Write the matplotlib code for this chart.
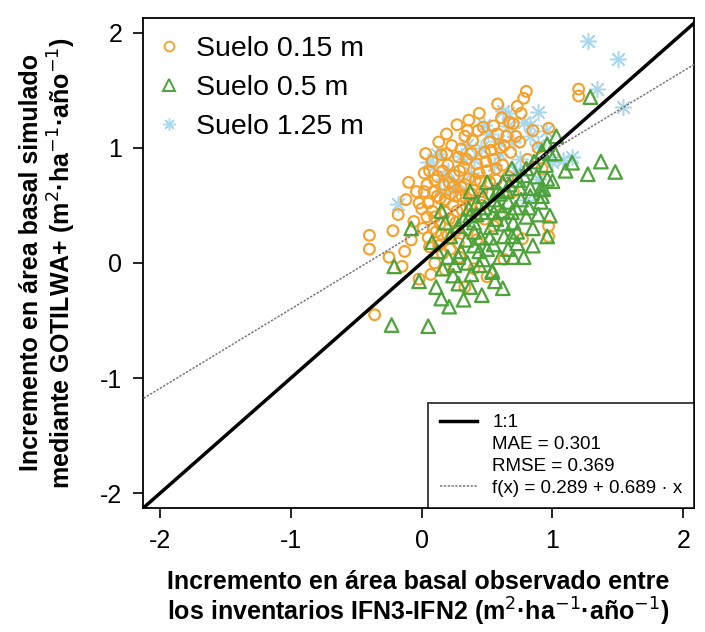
import numpy as np
import matplotlib
matplotlib.use("Agg")
from matplotlib import pyplot as plt
from matplotlib.lines import Line2D

plt.rcParams['font.family'] = ['Liberation Sans', 'DejaVu Sans']

# Suelo 0.15 m (observado, simulado)
obs_015 = [-0.40, -0.40, -0.36, -0.15, -0.02, -0.22, -0.18, -0.12, -0.08, -0.06,
           -0.04, 0.00, 0.01, 0.02, 0.04, 0.05, 0.06, 0.08, 0.09, 0.10,
           0.11, 0.12, 0.14, 0.15, 0.16, 0.17, 0.18, 0.20, 0.20, 0.22,
           0.23, 0.24, 0.25, 0.26, 0.28, 0.28, 0.30, 0.30, 0.31, 0.32,
           0.33, 0.34, 0.35, 0.36, 0.38, 0.39, 0.40, 0.41, 0.42, 0.43,
           0.45, 0.46, 0.47, 0.48, 0.50, 0.51, 0.52, 0.55, 0.55, 0.57,
           0.60, 0.61, 0.62, 0.65, 0.68, 0.70, 0.73, 0.75, 0.78, 0.80,
           0.81, 0.85, 0.97, 1.20, 1.20, 0.97, 0.97, 0.77, 0.63, 0.40,
           0.33, 0.29, 0.50, 0.18, 0.10, 0.60, 0.70, 0.55, 0.66, -0.10,
           0.03, 0.13, 0.19, 0.27, 0.36, 0.44, 0.58, 0.05, 0.14, 0.22,
           -0.13, -0.25, 0.07, 0.89, 0.92, 0.42, 0.21, 0.37, 0.26, 0.16,
           0.08, 0.48, 0.12, 0.33, 0.02, 0.18, 0.24, 0.29, 0.34, 0.38,
           0.44, 0.49, 0.53, 0.58, 0.63, 0.27, 0.21, 0.15, 0.09, 0.04,
           -0.02, 0.10, 0.06, 0.31, 0.41, 0.46, 0.52, 0.57, 0.35, 0.67,
           0.72, 0.76, 0.19, 0.13, 0.26]
sim_015 = [0.24, 0.12, -0.45, -0.03, -0.14, 0.28, 0.42, 0.55, 0.20, 0.36,
           0.62, 0.47, 0.30, 0.78, 0.68, 0.52, 0.14, 0.88, 0.62, 0.40,
           0.27, 0.75, 0.56, 0.94, 0.08, 0.68, 0.44, 0.85, 0.24, 0.60,
           1.02, 0.50, 0.76, 0.35, 0.92, 0.17, 0.66, 0.99, 0.46, 0.83,
           1.10, 0.56, 0.28, 0.73, 0.95, 1.06, 0.63, 0.40, 0.86, 1.15,
           0.71, 0.50, 1.18, 0.96, 0.80, 0.60, 1.05, 1.19, 0.90, 0.72,
           1.00, 1.26, 0.85, 1.10, 0.96, 1.21, 1.36, 1.05, 1.43, 1.49,
           0.90, 1.15, 1.17, 1.51, 1.45, 0.32, 0.23, 0.21, 0.03, -0.05,
           -0.21, 0.05, -0.12, -0.06, 0.00, 0.42, 0.62, 0.32, 0.75, 0.70,
           0.95, 1.05, 1.12, 1.20, 1.24, 1.30, 1.38, 0.22, 0.34, 0.12,
           0.10, 0.05, -0.10, 1.00, 0.82, 0.20, 0.70, 0.50, 0.58, 0.80,
           0.45, 0.38, 0.58, 0.68, 0.62, 0.55, 0.66, 0.80, 0.90, 0.60,
           0.78, 0.88, 0.98, 1.12, 1.02, 0.45, 0.38, 0.25, 0.30, 0.40,
           0.52, 0.72, 0.80, 0.58, 0.72, 0.62, 0.70, 0.82, 1.15, 1.22,
           1.10, 1.30, 0.95, 0.15, 0.28]

# Suelo 0.5 m
obs_05 = [-0.23, 0.05, -0.21, -0.02, 0.11, 0.15, 0.21, 0.24, 0.28, 0.37,
          0.54, 0.56, 0.40, 0.50, 0.47, 0.54, 0.63, 0.69, 0.73, 0.83,
          0.91, 0.91, 0.98, 0.96, 1.00, 0.37, 0.46, 0.55, 0.69, 0.53,
          1.29, 1.15, 1.27, 1.37, 1.48, 0.93, 0.92, 0.69, 0.78, 0.83,
          0.66, 0.58, 0.47, 0.37, 0.36, 0.28, -0.08, 0.22, 0.40, 0.63,
          0.55, 0.73, 0.92, 0.96, 0.30, 0.35, 0.44, 0.20, 0.12, 0.25,
          0.60, 0.66, 0.45, 0.58, 0.72, 0.80, 0.85, 0.88, 0.95, 1.02,
          1.03, 0.75, 0.62, 0.50, 0.42, 0.32, 0.18, 0.08, 0.15, 0.62,
          0.46, 0.32, 0.85, 0.78, 0.55, 0.65, 0.70, 0.40, 1.10, 0.96,
          0.60, 0.67, 0.74, 0.80, 0.86, 0.62, 0.48, 0.42, 0.34, 0.52,
          0.57, 0.76, 0.82, 0.89, 0.44, 0.28, 0.16, 0.38, 0.70, 0.98]
sim_05 = [-0.54, -0.55, -0.03, -0.16, -0.21, -0.31, -0.38, -0.11, -0.18, -0.21,
          -0.08, -0.16, 0.15, 0.12, 0.03, -0.07, 0.34, 0.23, 0.17, 0.58,
          0.64, 0.53, 0.41, 0.23, 0.71, 0.41, 0.44, 0.44, 0.44, 0.31,
          1.44, 0.87, 0.77, 0.88, 0.79, 0.64, 0.97, 0.82, 0.76, 0.65,
          0.53, 0.63, 0.58, 0.62, 0.47, 0.32, 0.30, 0.23, 0.27, 0.23,
          0.16, 0.27, 0.58, 0.73, 0.10, 0.00, -0.02, 0.05, 0.10, -0.02,
          0.05, 0.12, 0.22, 0.50, 0.48, 0.40, 0.30, 0.75, 0.85, 0.95,
          1.10, 0.65, 0.70, 0.70, 0.52, 0.38, 0.35, 0.18, 0.45, -0.22,
          -0.28, -0.32, 0.15, 0.05, 0.55, 0.62, 0.35, 0.35, 0.80, 1.03,
          0.60, 0.68, 0.72, 0.82, 0.88, 0.45, 0.48, 0.42, 0.20, 0.22,
          0.38, 0.55, 0.48, 0.42, 0.10, 0.05, -0.05, -0.10, 0.05, 0.95]

# Suelo 1.25 m
obs_125 = [1.27, 1.50, 1.34, 1.54, 1.08, 1.15, 0.89, 0.66, 0.83, 0.89,
           0.62, 0.66, 0.78, 0.58, 0.51, 0.35, 0.30, 0.09, 0.17, -0.18,
           0.24, 0.89, 0.83, 0.05, 0.12, 0.20, 0.40, 0.45, 0.70, 0.75,
           0.55, 0.48, 0.95, 0.28, 0.14, 0.60, 0.72, 0.38, 1.00, 0.92,
           0.80]
sim_125 = [1.93, 1.77, 1.51, 1.35, 0.89, 0.92, 1.31, 1.30, 1.20, 1.02,
           1.32, 1.19, 1.22, 1.06, 1.12, 1.02, 0.93, 0.83, 0.73, 0.51,
           0.64, 0.73, 1.10, 0.88, 0.95, 0.80, 0.90, 1.00, 1.05, 0.90,
           0.85, 1.20, 1.15, 0.70, 0.62, 0.95, 0.80, 0.78, 0.88, 0.60,
           0.55]

labels = ['Suelo 0.15 m', 'Suelo 0.5 m', 'Suelo 1.25 m']
mae = 0.301
rmse = 0.369
intercepto = 0.289
pendiente = 0.689

c_nar = '#F5A028'
c_ver = '#4CA33A'
c_azu = '#A9D7EC'

fig = plt.figure(figsize=(7.05, 6.32), dpi=100)
ax = fig.add_axes([0.203, 0.196, 0.781, 0.776])

ax.scatter(obs_015, sim_015, s=60, facecolors='none', edgecolors=c_nar, linewidths=1.5, zorder=2)
ax.scatter(obs_05, sim_05, s=95, marker='^', facecolors='none', edgecolors=c_ver, linewidths=1.6, zorder=3)
ax.scatter(obs_125, sim_125, s=130, marker=(8, 2, 0), color=c_azu, linewidths=1.1, zorder=1)

xlim = (-2.13, 2.08)
ylim = (-2.13, 2.13)
xx = np.array([-3, 3])
ax.plot(xx, xx, color='black', lw=2.5, zorder=4)
ax.plot(xx, intercepto + pendiente * xx, color='#777777', lw=1.1, ls=(0, (1.5, 1)), zorder=4)
ax.set_xlim(xlim)
ax.set_ylim(ylim)

ax.set_xticks([-2, -1, 0, 1, 2])
ax.set_yticks([-2, -1, 0, 1, 2])
ax.set_xticklabels(['-2', '-1', '0', '1', '2'])
ax.set_yticklabels(['-2', '-1', '0', '1', '2'])
ax.tick_params(direction='out', length=7, width=1.2, labelsize=18, pad=8)
for s in ax.spines.values():
    s.set_linewidth(1.3)

ax.set_xlabel('Incremento en área basal observado entre\nlos inventarios IFN3-IFN2 (m$^{2}$·ha$^{-1}$·año$^{-1}$)',
              fontsize=18, fontweight='bold', labelpad=12, linespacing=1.1)
ax.set_ylabel('Incremento en área basal simulado\nmediante GOTILWA+ (m$^{2}$·ha$^{-1}$·año$^{-1}$)',
              fontsize=18, fontweight='bold', labelpad=16, linespacing=1.1)

h1 = [Line2D([], [], ls='none', marker='o', mfc='none', mec=c_nar, ms=7, mew=1.3),
      Line2D([], [], ls='none', marker='^', mfc='none', mec=c_ver, ms=8, mew=1.4),
      Line2D([], [], ls='none', marker=(8, 2, 0), color=c_azu, ms=9, mew=1.0)]
leg1 = ax.legend(h1, labels, loc='upper left', frameon=False, fontsize=20.5,
                 handlelength=1.0, handletextpad=0.45, labelspacing=0.45,
                 borderaxespad=0.0, bbox_to_anchor=(0.0, 0.985))
ax.add_artist(leg1)

h2 = [Line2D([], [], color='black', lw=2.5),
      Line2D([], [], ls='none'),
      Line2D([], [], ls='none'),
      Line2D([], [], color='#777777', lw=1.1, ls=(0, (1.5, 1)))]
t2 = ['1:1', 'MAE = 0.301', 'RMSE = 0.369', 'f(x) = 0.289 + 0.689 · x']
leg2 = ax.legend(h2, t2, loc='lower right', fontsize=13.5, frameon=True, fancybox=False,
                 edgecolor='black', borderaxespad=0.0, handlelength=2.0,
                 handletextpad=0.8, labelspacing=0.25, borderpad=0.6)
leg2.get_frame().set_linewidth(1.3)

fig.savefig('out.png', dpi=100)
